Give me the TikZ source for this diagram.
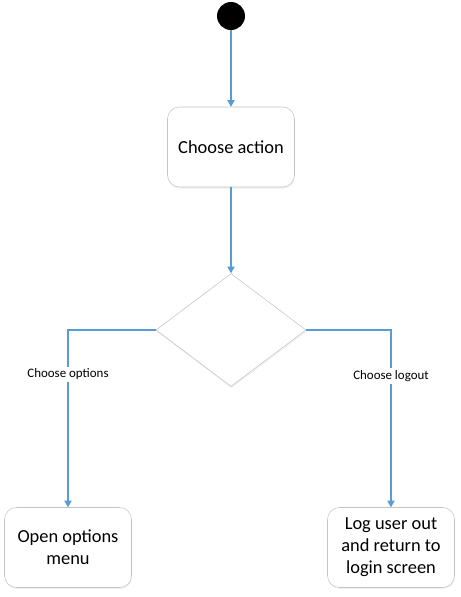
\documentclass[tikz,border=0pt]{standalone}
\usepackage{fontspec}
\setmainfont{Carlito}
\usepackage{tikz}
\usetikzlibrary{shapes.geometric, arrows.meta, shadows}
\definecolor{flowB}{RGB}{ 91,155,213}
\definecolor{boxG}{RGB}{196,196,196}

\begin{document}
\begin{tikzpicture}[x=0.75pt, y=-0.75pt,
    act/.style={draw=boxG, fill=white, rounded corners=9pt, minimum width=95.25pt,
                minimum height=60pt, align=center, font=\fontsize{13.8}{16.6}\selectfont,
                drop shadow={opacity=0.12, shadow xshift=0.4pt, shadow yshift=-1.2pt}},
    decide/.style={diamond, draw=boxG, fill=white, inner sep=0pt, minimum width=112.5pt,
                   minimum height=84.75pt,
                   drop shadow={opacity=0.12, shadow xshift=0.4pt, shadow yshift=-1.2pt}},
    flow/.style={draw=flowB, line width=0.85pt, -{Triangle[length=5pt, width=5.5pt]}},
    guard/.style={fill=white, font=\fontsize{9.7}{11}\selectfont, inner sep=1.5pt}
  ]
  \useasboundingbox (0,0) rectangle (461,597);

  % start and first action
  \node[circle, fill=black, minimum size=21pt, inner sep=0pt] (start) at (231,16) {};
  \node[act] (choose) at (231,147) {Choose action};
  \node[decide] (branch) at (231,330) {};

  % outcomes
  \node[act] (options) at (68,547.5) {Open options\\menu};
  \node[act] (logout) at (391,547.5) {Log user out\\and return to\\login screen};

  % connectors
  \draw[flow] (start) -- (choose);
  \draw[flow] (choose) -- (branch);
  \draw[flow] (branch.west) -| node[guard, pos=0.625] {Choose options} (options.north);
  \draw[flow] (branch.east) -| node[guard, pos=0.63] {Choose logout} (logout.north);
\end{tikzpicture}
\end{document}
